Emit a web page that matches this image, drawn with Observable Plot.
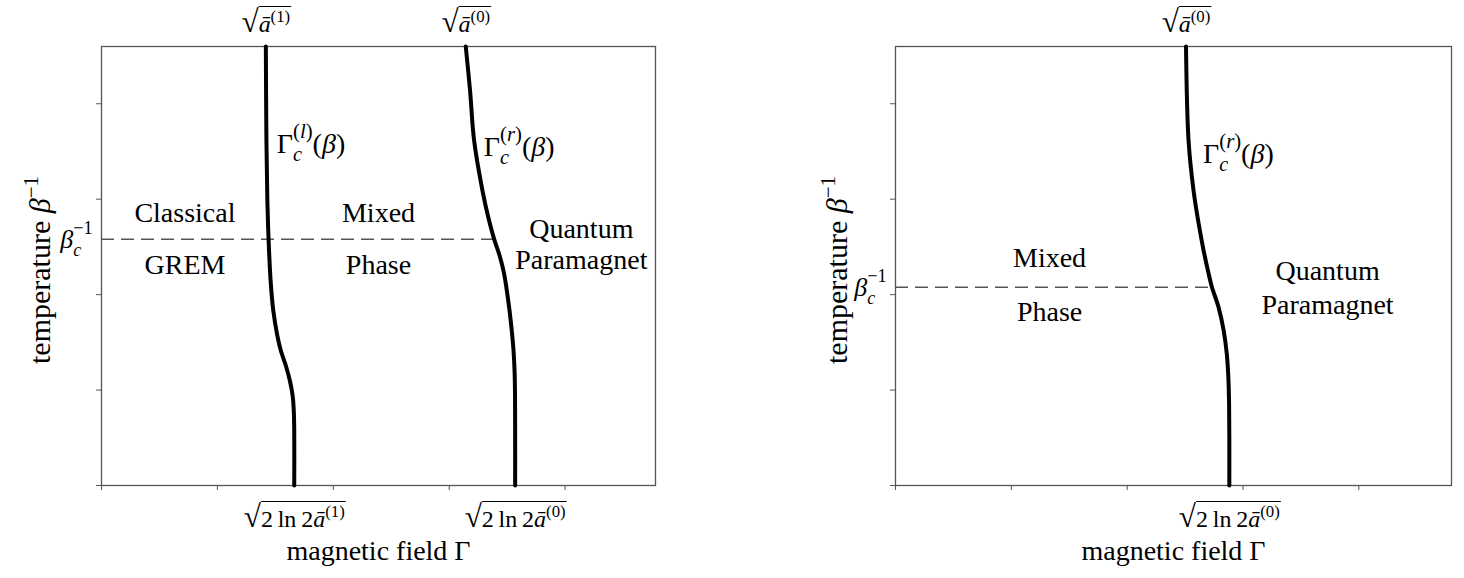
<!DOCTYPE html>
<html><head><meta charset="utf-8">
<script src="https://cdn.jsdelivr.net/npm/d3@7"></script>
<script src="https://cdn.jsdelivr.net/npm/@observablehq/plot@0.6"></script>
<style>
body{margin:0;background:#fff;}
#row{display:flex;width:1464px;height:578px;overflow:hidden;}
#row svg{overflow:visible;}
</style></head><body><div id="row"></div>
<script>
const ns = "http://www.w3.org/2000/svg";

// ---------- data ----------
const xTicks = [0, 1, 2, 3, 4];
const yTicks = [0, 1, 2, 3, 4];
const yMax = 4.6;

// left panel
const L_xMax = 4.78;
const L_lowerGamma = [1.418, 1.423, 1.431, 1.442, 1.459, 1.482, 1.517, 1.547, 1.590, 1.625, 1.649, 1.659, 1.663, 1.663];
const L_lowerTemp  = [4.599, 3.614, 2.986, 2.567, 2.148, 1.833, 1.571, 1.414, 1.257, 1.100, 0.943, 0.786, 0.576, 0];
const L_upperGamma = [3.143, 3.180, 3.215, 3.287, 3.344, 3.387, 3.439, 3.474, 3.517, 3.540, 3.555, 3.564, 3.568, 3.569, 3.569];
const L_upperTemp  = [4.599, 4.138, 3.614, 3.091, 2.776, 2.585, 2.392, 2.218, 1.868, 1.620, 1.414, 1.200, 0.950, 0.600, 0];
const L_betaC = 2.58;
const L_dashEnd = 3.387;
const L_regionText = ["Classical", "GREM", "Mixed", "Phase", "Quantum", "Paramagnet"];
const L_regionX = [0.72, 0.72, 2.39, 2.39, 4.14, 4.14];
const L_regionY = [2.85, 2.31, 2.85, 2.31, 2.69, 2.36];
const L_curveText = ["Γc(l)(β)", "Γc(r)(β)"];
const L_curveX = [1.513, 3.299];
const L_curveY = [3.489, 3.457];
const L_topText = ["√ā(1)", "√ā(0)"];
const L_topX = [1.418, 3.143];
const L_botText = ["√2ln2ā(1)", "√2ln2ā(0)"];
const L_botX = [1.663, 3.569];

// right panel
const R_xMax = 4.8;
const R_upperGamma = [2.508, 2.530, 2.573, 2.617, 2.660, 2.703, 2.732, 2.789, 2.833, 2.860, 2.874, 2.880, 2.882, 2.882];
const R_upperTemp  = [4.599, 3.614, 3.091, 2.745, 2.462, 2.221, 2.078, 1.868, 1.624, 1.380, 1.120, 0.850, 0.500, 0];
const R_betaC = 2.078;
const R_dashEnd = 2.732;
const R_regionText = ["Mixed", "Phase", "Quantum", "Paramagnet"];
const R_regionX = [1.33, 1.33, 3.73, 3.73];
const R_regionY = [2.38, 1.82, 2.25, 1.89];
const R_curveText = ["Γc(r)(β)"];
const R_curveX = [2.655];
const R_curveY = [3.384];
const R_topText = ["√ā(0)"];
const R_topX = [2.508];
const R_botText = ["√2ln2ā(0)"];
const R_botX = [2.882];

const xTitle = "magnetic field Γ";
const yTitle = "temperature β−1";
const betaLabel = "βc−1";

// rich-text specs (sub/superscripts, italics, radicals)
const rich = {
  "√ā(1)": [{t: "√", rad: true, sz: 1.3}, {t: "ā", it: true, ov: true}, {t: "(1)", sh: "sup", up: 0.42, sz: 0.7, ov: true}],
  "√ā(0)": [{t: "√", rad: true, sz: 1.3}, {t: "ā", it: true, ov: true}, {t: "(0)", sh: "sup", up: 0.42, sz: 0.7, ov: true}],
  "√2ln2ā(1)": [{t: "√", rad: true, sz: 1.3}, {t: "2\u2009ln\u20092", ov: true}, {t: "ā", it: true, ov: true}, {t: "(1)", sh: "sup", up: 0.42, sz: 0.7, ov: true}],
  "√2ln2ā(0)": [{t: "√", rad: true, sz: 1.3}, {t: "2\u2009ln\u20092", ov: true}, {t: "ā", it: true, ov: true}, {t: "(0)", sh: "sup", up: 0.42, sz: 0.7, ov: true}],
  "Γc(l)(β)": [{t: "Γ"}, {t: "c", it: true, sh: "sub", sz: 0.72}, {t: "(", sh: "sup", sz: 0.74, stack: true}, {t: "l", it: true, sh: "sup", sz: 0.74}, {t: ")", sh: "sup", sz: 0.74}, {t: "("}, {t: "β", it: true}, {t: ")"}],
  "Γc(r)(β)": [{t: "Γ"}, {t: "c", it: true, sh: "sub", sz: 0.72}, {t: "(", sh: "sup", sz: 0.74, stack: true}, {t: "r", it: true, sh: "sup", sz: 0.74}, {t: ")", sh: "sup", sz: 0.74}, {t: "("}, {t: "β", it: true}, {t: ")"}],
  "βc−1": [{t: "β", it: true}, {t: "c", it: true, sh: "sub", sz: 0.7}, {t: "−1", sh: "sup", sz: 0.7, stack: true}],
  "temperature β−1": [{t: "temperature "}, {t: "β", it: true}, {t: "−1", sh: "sup", up: 0.42, sz: 0.7}]
};

const FONT = "'Liberation Serif', 'Times New Roman', serif";

function panel(o) {
  const lines = o.curves.flatMap((c, k) => c.g.map((g, i) => ({g, t: c.t[i], k})));
  const regions = o.regionText.map((t, i) => ({t, x: o.regionX[i], y: o.regionY[i]}));
  const clabels = o.curveText.map((t, i) => ({t, x: o.curveX[i], y: o.curveY[i]}));
  const tops = o.topText.map((t, i) => ({t, x: o.topX[i]}));
  const bots = o.botText.map((t, i) => ({t, x: o.botX[i]}));
  return Plot.plot({
    width: o.width, height: 578,
    marginLeft: o.ml, marginRight: o.mr, marginTop: 46, marginBottom: 93,
    style: {fontFamily: FONT, fontSize: "28px", background: "white", color: "black", overflow: "visible"},
    x: {domain: [0, o.xMax], axis: null},
    y: {domain: [0, yMax], axis: null},
    marks: [
      Plot.axisX({ticks: xTicks, tickFormat: () => "", tickSize: 5, stroke: "#555", label: null}),
      Plot.axisY({ticks: yTicks, tickFormat: () => "", tickSize: 5, stroke: "#555", label: null}),
      Plot.frame({stroke: "#555", strokeWidth: 1.3}),
      Plot.ruleY([o.betaC], {x1: 0, x2: o.dashEnd, stroke: "#555", strokeWidth: 1.4, strokeDasharray: "13,7"}),
      Plot.line(lines, {x: "g", y: "t", z: "k", stroke: "black", strokeWidth: 4, curve: "catmull-rom"}),
      Plot.text(regions, {x: "x", y: "y", text: "t", fontSize: 28}),
      Plot.text(clabels, {x: "x", y: "y", text: "t", textAnchor: "start", lineAnchor: "bottom", fontSize: 28}),
      Plot.text(tops, {x: "x", text: "t", frameAnchor: "top", textAnchor: "middle", lineAnchor: "middle", dy: -22, fontSize: 24}),
      Plot.text(bots, {x: "x", text: "t", frameAnchor: "bottom", textAnchor: "middle", lineAnchor: "middle", dy: 34, fontSize: 24}),
      Plot.text([betaLabel], {x: 0, y: o.betaC, text: d => d, textAnchor: "end", lineAnchor: "middle", dx: -9, fontSize: 26}),
      Plot.text([xTitle], {text: d => d, frameAnchor: "bottom", textAnchor: "middle", lineAnchor: "middle", dy: 66, fontSize: 28}),
      Plot.text([yTitle], {text: d => d, frameAnchor: "left", textAnchor: "middle", lineAnchor: "middle", rotate: -90, dx: o.ydx, dy: 4, fontSize: 30})
    ]
  });
}

const row = document.getElementById("row");
row.appendChild(panel({
  width: 732, ml: 101, mr: 77, xMax: L_xMax, ydx: -61,
  curves: [{g: L_lowerGamma, t: L_lowerTemp}, {g: L_upperGamma, t: L_upperTemp}],
  betaC: L_betaC, dashEnd: L_dashEnd,
  regionText: L_regionText, regionX: L_regionX, regionY: L_regionY,
  curveText: L_curveText, curveX: L_curveX, curveY: L_curveY,
  topText: L_topText, topX: L_topX, botText: L_botText, botX: L_botX
}));
row.appendChild(panel({
  width: 732, ml: 163, mr: 13, xMax: R_xMax, ydx: -58,
  curves: [{g: R_upperGamma, t: R_upperTemp}],
  betaC: R_betaC, dashEnd: R_dashEnd,
  regionText: R_regionText, regionX: R_regionX, regionY: R_regionY,
  curveText: R_curveText, curveX: R_curveX, curveY: R_curveY,
  topText: R_topText, topX: R_topX, botText: R_botText, botX: R_botX
}));

// baseline shifts (in em of the parent text) for stacked scripts
const SUP = -0.52, SUB = 0.31;
function enrich(el, segs) {
  const fs = parseFloat(getComputedStyle(el).fontSize);
  while (el.firstChild) el.removeChild(el.firstChild);
  let cur = 0, prevW = 0, rad = null;
  const ov = [];
  for (const s of segs) {
    const ts = document.createElementNS(ns, "tspan");
    ts.textContent = s.t;
    if (s.sz) ts.style.fontSize = (s.sz * fs) + "px";
    if (s.it) ts.style.fontStyle = "italic";
    const target = s.sh === "sup" ? -(s.up || -SUP) * fs : s.sh === "sub" ? SUB * fs : 0;
    if (target !== cur) ts.setAttribute("dy", target - cur);
    cur = target;
    if (s.stack) ts.setAttribute("dx", -prevW);
    el.appendChild(ts);
    prevW = ts.getComputedTextLength();
    if (s.rad) rad = ts;
    if (s.ov) ov.push(ts);
  }
  if (rad && ov.length) {
    const rb = rad.getBBox();
    const rs = parseFloat(getComputedStyle(rad).fontSize);
    let xEnd = -Infinity;
    for (const t of ov) { const b = t.getBBox(); xEnd = Math.max(xEnd, b.x + b.width); }
    const line = document.createElementNS(ns, "line");
    const y = rb.y + 0.075 * rs;
    line.setAttribute("x1", rb.x + rb.width - 0.8);
    line.setAttribute("x2", xEnd + 1);
    line.setAttribute("y1", y);
    line.setAttribute("y2", y);
    line.setAttribute("stroke", "black");
    line.setAttribute("stroke-width", 1.1);
    const tr = el.getAttribute("transform");
    if (tr) line.setAttribute("transform", tr);
    el.parentNode.appendChild(line);
  }
}
document.querySelectorAll("#row svg text").forEach(el => {
  const k = el.textContent;
  if (rich[k]) enrich(el, rich[k]);
});
</script></body></html>
